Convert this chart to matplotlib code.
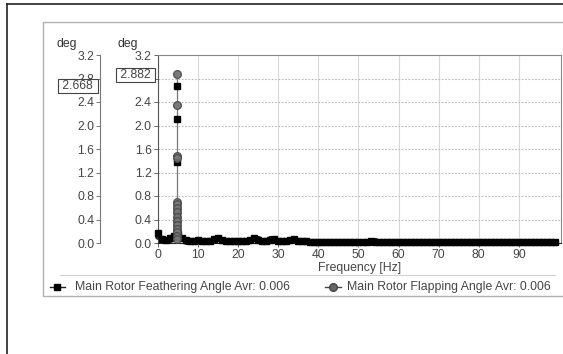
import numpy as np
import matplotlib
matplotlib.use("Agg")
import matplotlib.pyplot as plt
from matplotlib.lines import Line2D
from matplotlib.patches import Rectangle

plt.rcParams['font.family'] = ['Liberation Sans', 'DejaVu Sans']

# spectrum values, 1 Hz bins from 0 to 99 Hz
freq = np.arange(0, 100)
feathering = [0.17, 0.06, 0.05, 0.08, 0.12, 0.15, 0.08, 0.05, 0.04, 0.04,
              0.05, 0.04, 0.03, 0.03, 0.06, 0.08, 0.05, 0.03, 0.03, 0.03,
              0.03, 0.03, 0.03, 0.05, 0.08, 0.05, 0.03, 0.03, 0.05, 0.06,
              0.04, 0.03, 0.03, 0.05, 0.06, 0.03, 0.03, 0.03, 0.02, 0.02,
              0.02, 0.02, 0.02, 0.02, 0.02, 0.02, 0.02, 0.02, 0.02, 0.02,
              0.02, 0.02, 0.02, 0.03, 0.02, 0.02, 0.02, 0.02, 0.02, 0.02,
              0.02, 0.02, 0.02, 0.02, 0.02, 0.02, 0.02, 0.02, 0.02, 0.02,
              0.02, 0.02, 0.02, 0.02, 0.02, 0.02, 0.02, 0.02, 0.02, 0.02,
              0.02, 0.02, 0.02, 0.02, 0.02, 0.02, 0.02, 0.02, 0.02, 0.02,
              0.02, 0.02, 0.02, 0.02, 0.02, 0.02, 0.02, 0.02, 0.02, 0.02]
flapping = [0.12, 0.05, 0.05, 0.07, 0.11, 0.14, 0.09, 0.04, 0.04, 0.03,
            0.05, 0.03, 0.03, 0.03, 0.07, 0.09, 0.05, 0.03, 0.03, 0.03,
            0.03, 0.03, 0.03, 0.05, 0.09, 0.06, 0.03, 0.03, 0.06, 0.07,
            0.04, 0.03, 0.03, 0.05, 0.07, 0.03, 0.03, 0.03, 0.02, 0.02,
            0.02, 0.02, 0.02, 0.02, 0.02, 0.02, 0.02, 0.02, 0.02, 0.02,
            0.02, 0.02, 0.02, 0.02, 0.03, 0.02, 0.02, 0.02, 0.02, 0.02,
            0.02, 0.02, 0.02, 0.02, 0.02, 0.02, 0.02, 0.02, 0.02, 0.02,
            0.02, 0.02, 0.02, 0.02, 0.02, 0.02, 0.02, 0.02, 0.02, 0.02,
            0.02, 0.02, 0.02, 0.02, 0.02, 0.02, 0.02, 0.02, 0.02, 0.02,
            0.02, 0.02, 0.02, 0.02, 0.02, 0.02, 0.02, 0.02, 0.02, 0.02]

# stacked peak values at the rotor frequency
peak_freq = 4.8
peak_flapping = [2.882, 2.35, 1.48, 1.44, 0.70, 0.66, 0.60, 0.52, 0.45,
                 0.38, 0.30, 0.24, 0.18, 0.12, 0.07]
peak_feathering = [2.668, 2.105, 1.38, 0.62, 0.55, 0.47, 0.40, 0.33, 0.25,
                   0.18, 0.10]

yticks = [0.0, 0.4, 0.8, 1.2, 1.6, 2.0, 2.4, 2.8, 3.2]
xticks = [0, 10, 20, 30, 40, 50, 60, 70, 80, 90]
label_feathering = "Main Rotor Feathering Angle Avr: 0.006"
label_flapping = "Main Rotor Flapping Angle Avr: 0.006"

W, H = 563, 354
fig = plt.figure(figsize=(W / 100, H / 100), dpi=100)

def fx(px):
    return px / W

def fy(py):
    return 1 - py / H

txt = "#454545"
fs = 8.8

# outer frame and inner panel
fig.add_artist(Line2D([fx(7), 1], [fy(4), fy(4)], color="#222222", lw=1.2))
fig.add_artist(Line2D([fx(7), fx(7)], [fy(4), 0], color="#222222", lw=1.2))
fig.add_artist(Rectangle((fx(43), fy(296)), 1, fy(22) - fy(296), fill=False,
                         edgecolor="#b0b0b0", lw=1.0))
fig.add_artist(Line2D([fx(60), fx(555)], [fy(275), fy(275)], color="#d0d0d0", lw=0.8))

# main axes
ax = fig.add_axes([fx(158), fy(243), fx(561) - fx(158), fy(55) - fy(243)])
ax.set_xlim(0, 100.5)
ax.set_ylim(0, 3.2)
ax.set_xticks(xticks)
ax.set_yticks(yticks)
ax.set_yticklabels([f"{v:.1f}" for v in yticks])
ax.tick_params(colors="#666666", labelcolor=txt, labelsize=fs, length=3, width=0.7, pad=1.5)
for s in ax.spines.values():
    s.set_color("#888888")
    s.set_linewidth(0.8)
ax.spines["left"].set_color("#555555")
ax.spines["bottom"].set_color("#222222")
ax.grid(axis="x", color="#d8d8d8", lw=0.8)
ax.grid(axis="y", color="#b8b8b8", lw=0.8, linestyle=(0, (1.5, 1.5)))
ax.set_axisbelow(True)
ax.set_xlabel("Frequency [Hz]", fontsize=fs, color=txt, labelpad=0.5)

ax.plot([peak_freq, peak_freq], [0, max(peak_flapping)], color="#777777", lw=0.9, zorder=2)
ax.plot(freq, flapping, color="#222222", lw=2, marker="o", ms=4,
        markerfacecolor="#333333", markeredgecolor="#222222", zorder=3, clip_on=False)
ax.plot(freq, feathering, color="black", lw=3, marker="s", ms=4,
        markerfacecolor="black", markeredgecolor="black", zorder=3, clip_on=False)
ax.plot([peak_freq] * len(peak_feathering), peak_feathering, linestyle="none", marker="s",
        ms=4.5, markerfacecolor="black", markeredgecolor="black", zorder=4)
ax.plot([peak_freq] * len(peak_flapping[3:]), peak_flapping[3:], linestyle="none", marker="o",
        ms=5.5, markerfacecolor="#7a7a7a", markeredgecolor="#4a4a4a", alpha=0.85, zorder=5)
ax.plot([peak_freq] * 3, peak_flapping[:3], linestyle="none", marker="o",
        ms=5.5, markerfacecolor="#7a7a7a", markeredgecolor="#555555", zorder=3.5)

# secondary y axis (feathering scale)
ax2 = fig.add_axes([fx(100), fy(243), 0.0001, fy(55) - fy(243)])
ax2.set_ylim(0, 3.2)
ax2.set_yticks(yticks)
ax2.set_yticklabels([f"{v:.1f}" for v in yticks])
ax2.set_xticks([])
for k in ["top", "right", "bottom"]:
    ax2.spines[k].set_visible(False)
ax2.spines["left"].set_color("#777777")
ax2.spines["left"].set_linewidth(0.8)
ax2.tick_params(colors="#777777", labelcolor=txt, labelsize=fs, length=3, width=0.7, pad=1)
ax2.patch.set_visible(False)

# unit labels
fig.text(fx(67), fy(44), "deg", fontsize=fs, color="#333333", ha="center", va="center")
fig.text(fx(128), fy(44), "deg", fontsize=fs, color="#333333", ha="center", va="center")

# value boxes
box = dict(boxstyle="square,pad=0.1", facecolor="white", edgecolor="#444444", lw=0.8)
fig.text(fx(78), fy(86), f" {peak_feathering[0]:.3f} ", fontsize=fs, color=txt,
         ha="center", va="center", bbox=box)
fig.text(fx(135.5), fy(75), f" {peak_flapping[0]:.3f} ", fontsize=fs, color=txt,
         ha="center", va="center", bbox=box)

# legend
fig.add_artist(Line2D([fx(50), fx(65)], [fy(287), fy(287)], color="#222222", lw=1))
fig.add_artist(Line2D([fx(57)], [fy(287)], marker="s", ms=4.5, color="black", linestyle="none"))
fig.text(fx(75), fy(287), label_feathering, fontsize=fs, color=txt, va="center", ha="left")
fig.add_artist(Line2D([fx(325), fx(341)], [fy(287), fy(287)], color="#444444", lw=1))
fig.add_artist(Line2D([fx(333)], [fy(287)], marker="o", ms=5.5, markerfacecolor="#666666",
                      markeredgecolor="#444444", linestyle="none"))
fig.text(fx(347), fy(287), label_flapping, fontsize=fs, color=txt, va="center", ha="left")

fig.savefig("out.png", dpi=100)
